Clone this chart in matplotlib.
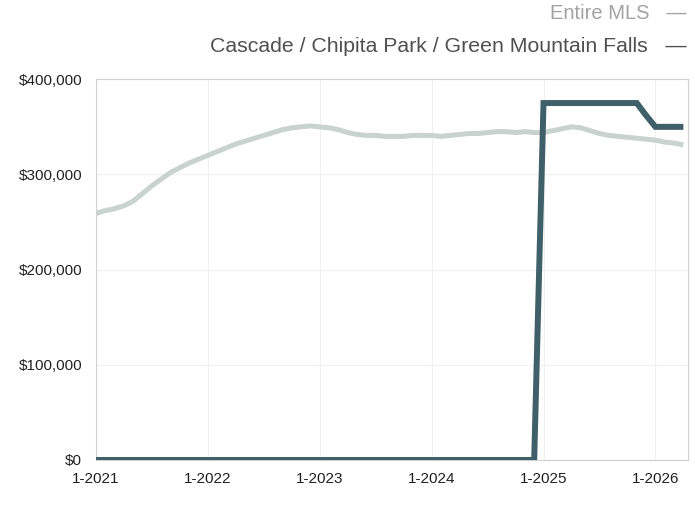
import matplotlib
matplotlib.use("Agg")
import matplotlib.pyplot as plt
import matplotlib.ticker as ticker

# months since 1-2021
months = list(range(64))

entire_mls = [259, 262, 264, 267, 272, 280, 288, 295, 302, 307, 312, 316,
              320, 324, 328, 332, 335, 338, 341, 344, 347, 349, 350, 351,
              350, 349, 347, 344, 342, 341, 341, 340, 340, 340, 341, 341,
              341, 340, 341, 342, 343, 343, 344, 345, 345, 344, 345, 344,
              344, 346, 348, 350, 349, 346, 343, 341, 340, 339, 338, 337,
              336, 334, 333, 331]
entire_mls = [v * 1000 for v in entire_mls]

cascade = [0] * 48 + [375] * 11 + [362, 350, 350, 350, 350]
cascade = [v * 1000 for v in cascade]

x_ticks = [0, 12, 24, 36, 48, 60]
x_labels = ["1-2021", "1-2022", "1-2023", "1-2024", "1-2025", "1-2026"]
y_ticks = [0, 100000, 200000, 300000, 400000]

plt.rcParams['font.family'] = ['Liberation Sans', 'DejaVu Sans']

fig = plt.figure(figsize=(6.95, 5.18), dpi=100)
ax = fig.add_axes([0.138, 0.112, 0.852, 0.735])

ax.plot(months, entire_mls, color="#c8d2cf", linewidth=3.6, solid_capstyle="butt", zorder=2)
ax.plot(months, cascade, color="#3f5f69", linewidth=4.3, solid_capstyle="butt",
        solid_joinstyle="miter", zorder=3)

ax.set_xlim(0, 63.5)
ax.set_ylim(0, 400000)
ax.set_xticks(x_ticks)
ax.set_xticklabels(x_labels)
ax.set_yticks(y_ticks)
ax.yaxis.set_major_formatter(ticker.FuncFormatter(lambda v, p: f"${int(v):,}"))
ax.tick_params(axis="both", length=0, labelsize=11, colors="#222222")
ax.tick_params(axis="y", pad=10)
ax.tick_params(axis="x", pad=9)
ax.grid(True, color="#f0f0f0", linewidth=0.8, zorder=0)
for side in ax.spines.values():
    side.set_color("#d0d0d0")
    side.set_linewidth(0.8)

fig.text(0.988, 0.973, "Entire MLS   \u2014", ha="right", va="center", fontsize=14.5, color="#a3a3a3")
fig.text(0.988, 0.911, "Cascade / Chipita Park / Green Mountain Falls   \u2014", ha="right",
         va="center", fontsize=15.3, color="#505050")

fig.savefig("out.png", dpi=100)
